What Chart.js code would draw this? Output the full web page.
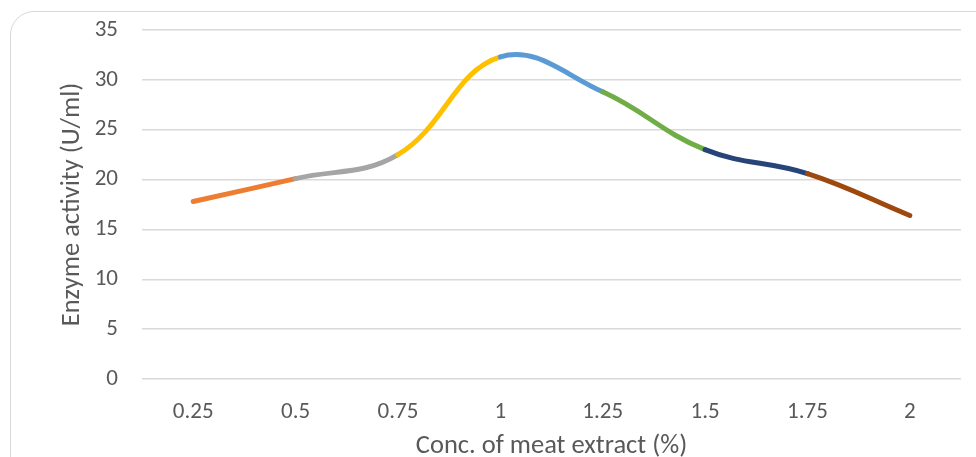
<!DOCTYPE html>
<html>
<head>
<meta charset="utf-8">
<script src="https://cdn.jsdelivr.net/npm/chart.js@4/dist/chart.umd.min.js"></script>
<style>
  html, body { margin: 0; padding: 0; background: #fff; overflow: hidden; }
  #wrap { position: relative; width: 976px; height: 457px; }
  #frame { position: absolute; left: 10px; top: 11px; width: 1000px; height: 500px;
           border: 1px solid #d9d9d9; border-radius: 24px; box-sizing: border-box; }
  canvas { position: absolute; left: 0; top: 0; }
</style>
</head>
<body>
<div id="wrap">
  <div id="frame"></div>
  <canvas id="myChart" width="976" height="457"></canvas>
</div>
<script>
const categories = ['0.25', '0.5', '0.75', '1', '1.25', '1.5', '1.75', '2']
const activity = [17.8, 20.1, 22.5, 32.3, 28.8, 23.0, 20.6, 16.4]
const yTicks = [0, 5, 10, 15, 20, 25, 30, 35]
const segmentColors = ['#ED7D31', '#A5A5A5', '#FFC000', '#5B9BD5', '#70AD47', '#264478', '#9E480E']

const font = "Calibri, Carlito, 'DejaVu Sans Condensed', 'Liberation Sans', sans-serif"

const ctx = document.getElementById('myChart')
new Chart(ctx, {
  type: 'line',
  data: {
    labels: categories,
    datasets: [{
      data: activity,
      borderWidth: 5,
      borderCapStyle: 'round',
      borderColor: segmentColors[0],
      tension: 0.4,
      pointRadius: 0,
      segment: {
        borderColor: c => segmentColors[c.p0DataIndex]
      }
    }]
  },
  options: {
    responsive: false,
    animation: false,
    layout: { padding: { left: 56, right: 15, top: 9, bottom: 0 } },
    plugins: { legend: { display: false }, tooltip: { enabled: false } },
    scales: {
      x: {
        offset: true,
        grid: { display: false, drawTicks: false },
        border: { display: false },
        ticks: { color: '#595959', font: { family: font, size: 23 }, padding: 19, maxRotation: 0 },
        title: { display: true, text: 'Conc. of meat extract (%)', color: '#595959',
                 font: { family: font, size: 26.5, lineHeight: 1.0 }, padding: { top: 2, bottom: -3 } },
        afterFit: axis => { axis.height = 78 }
      },
      y: {
        min: 0,
        max: 35,
        afterBuildTicks: axis => { axis.ticks = yTicks.map(v => ({ value: v })) },
        grid: { color: '#d9d9d9', lineWidth: 1.5, drawTicks: false },
        border: { display: false },
        ticks: { color: '#595959', font: { family: font, size: 23 }, padding: 24 },
        title: { display: true, text: 'Enzyme activity (U/ml)', color: '#595959',
                 font: { family: font, size: 26.5 }, padding: { top: 0, bottom: 9 } },
        afterFit: axis => {
          axis.width = 86
          axis.paddingTop = 30
          axis.paddingBottom = 0
        }
      }
    }
  }
})
</script>
</body>
</html>
